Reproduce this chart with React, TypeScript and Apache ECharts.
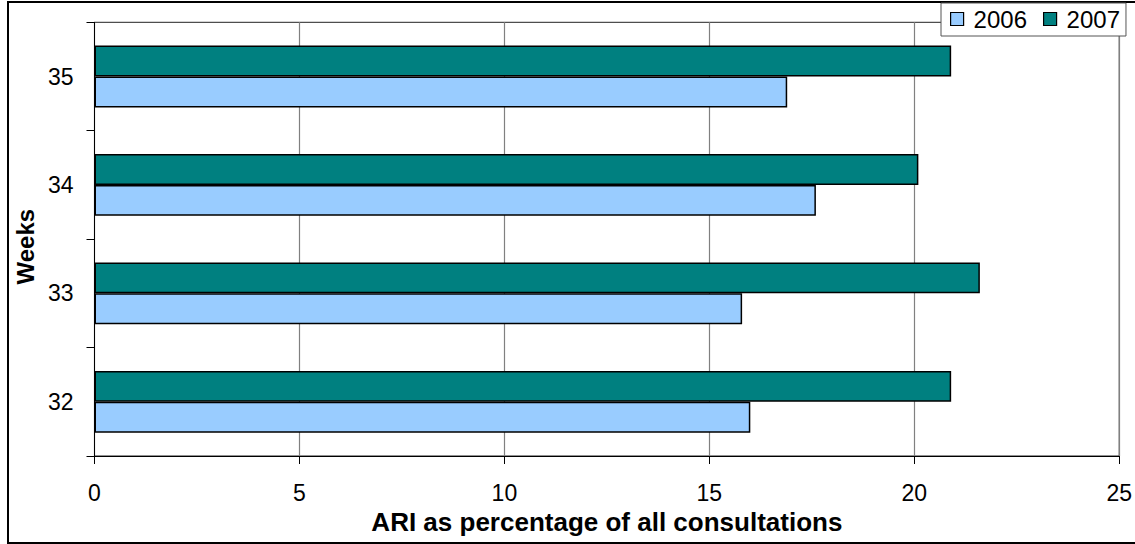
import React, { useEffect, useRef } from "react";
import * as echarts from "echarts";

const weeks = ["32", "33", "34", "35"];
const values2006 = [16.0, 15.8, 17.6, 16.9];
const values2007 = [20.9, 21.6, 20.1, 20.9];
const seriesNames = ["2006", "2007"];
const xTicks = { min: 0, max: 25, interval: 5 };

const FONT = "'Liberation Sans', Arial, sans-serif";

export default function App() {
  const ref = useRef<HTMLDivElement>(null);
  useEffect(() => {
    if (!ref.current) return;
    const chart = echarts.init(ref.current, undefined, { renderer: "svg" });
    chart.setOption({
      animation: false,
      backgroundColor: "#ffffff",
      textStyle: { fontFamily: FONT },
      graphic: [
        {
          type: "rect",
          z: -1,
          shape: { x: 8, y: 2, width: 1140, height: 541 },
          style: { fill: "none", stroke: "#000", lineWidth: 2 },
          silent: true,
        },
      ],
      legend: {
        data: seriesNames,
        left: 941,
        top: 3,
        padding: [4, 6, 5, 9],
        itemGap: 16,
        itemWidth: 13,
        itemHeight: 13,
        backgroundColor: "#fff",
        borderColor: "#555",
        borderWidth: 1,
        icon: "rect",
        textStyle: { fontSize: 24, color: "#000", fontFamily: FONT, padding: [0, 0, 0, 5] },
        itemStyle: { borderColor: "#000", borderWidth: 1.2 },
        z: 10,
      },
      grid: {
        left: 94.5,
        right: 10.5,
        top: 22.3,
        bottom: 88,
        containLabel: false,
        show: true,
        borderColor: "#222",
        borderWidth: 1,
      },
      xAxis: {
        type: "value",
        min: xTicks.min,
        max: xTicks.max,
        interval: xTicks.interval,
        name: "ARI as percentage of all consultations",
        nameLocation: "middle",
        nameGap: 52,
        nameTextStyle: { fontSize: 26, fontWeight: "bold", color: "#000", fontFamily: FONT },
        axisLine: { show: true, lineStyle: { color: "#000", width: 1 } },
        axisTick: { show: true, length: 8, lineStyle: { color: "#000" } },
        axisLabel: { fontSize: 23, color: "#000", margin: 25, fontFamily: FONT },
        splitLine: { show: true, lineStyle: { color: "#808080", width: 1.2 } },
      },
      yAxis: {
        type: "category",
        data: weeks,
        name: "Weeks",
        nameLocation: "middle",
        nameGap: 54,
        nameTextStyle: {
          fontSize: 24,
          fontWeight: "bold",
          color: "#000",
          fontFamily: FONT,
          padding: [0, 15, 0, 0],
        },
        axisLine: { show: true, lineStyle: { color: "#000", width: 1 } },
        axisTick: { show: true, length: 8, alignWithLabel: false, lineStyle: { color: "#000" } },
        axisLabel: { fontSize: 23, color: "#000", margin: 21, fontFamily: FONT, padding: [0, 0, 6, 0] },
        splitLine: { show: false },
      },
      series: [
        {
          name: seriesNames[1],
          type: "bar",
          data: values2007,
          barGap: "0%",
          barCategoryGap: "43%",
          itemStyle: { color: "#008080", borderColor: "#000", borderWidth: 1.5 },
        },
        {
          name: seriesNames[0],
          type: "bar",
          data: values2006,
          barGap: "0%",
          barCategoryGap: "43%",
          itemStyle: { color: "#99CCFF", borderColor: "#000", borderWidth: 1.5 },
        },
      ],
    });
    return () => chart.dispose();
  }, []);
  return (
    <div
      ref={ref}
      style={{ position: "absolute", left: 0, top: 0, width: 1135, height: 544 }}
    />
  );
}
